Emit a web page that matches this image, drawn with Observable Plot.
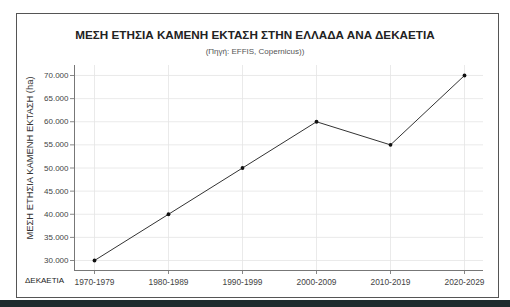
<!DOCTYPE html>
<html>
<head>
<meta charset="utf-8">
<script src="https://cdn.jsdelivr.net/npm/d3@7"></script>
<script src="https://cdn.jsdelivr.net/npm/@observablehq/plot@0.6"></script>
<style>
  html, body { margin: 0; padding: 0; background: #fff; }
  body { width: 510px; height: 307px; position: relative; overflow: hidden; font-family: "Liberation Sans", Arial, sans-serif; }
  #card { position: absolute; left: 16px; top: 13px; width: 483px; height: 285px; border: 1px solid #555; box-sizing: border-box; background: #fff; }
  #band { position: absolute; left: 0; top: 300px; width: 510px; height: 7px; background: #1e2b2d; }
  #chart { position: absolute; left: 0; top: 0; }
  .t { position: absolute; white-space: nowrap; color: #222; }
  #title { left: 0; width: 510px; text-align: center; top: 28px; font-size: 11.7px; font-weight: bold; }
  #sub { left: 0; width: 510px; text-align: center; top: 47px; font-size: 8px; color: #555; }
  #ylab { left: 29px; top: 158px; font-size: 9.4px; color: #333; transform: translate(-50%, -50%) rotate(-90deg); }
  #xlab { left: 25px; top: 276px; font-size: 8px; color: #222; }
</style>
</head>
<body>
<div id="card"></div>
<div id="band"></div>
<div id="chart"></div>
<div class="t" id="title">ΜΕΣΗ ΕΤΗΣΙΑ ΚΑΜΕΝΗ ΕΚΤΑΣΗ ΣΤΗΝ ΕΛΛΑΔΑ ΑΝΑ ΔΕΚΑΕΤΙΑ</div>
<div class="t" id="sub">(Πηγή: EFFIS, Copernicus))</div>
<div class="t" id="ylab">ΜΕΣΗ ΕΤΗΣΙΑ ΚΑΜΕΝΗ ΕΚΤΑΣΗ (ha)</div>
<div class="t" id="xlab">ΔΕΚΑΕΤΙΑ</div>
<script>
const decades = ["1970-1979", "1980-1989", "1990-1999", "2000-2009", "2010-2019", "2020-2029"];
const area = [30000, 40000, 50000, 60000, 55000, 70000];
const yTicks = [30000, 35000, 40000, 45000, 50000, 55000, 60000, 65000, 70000];

const data = decades.map((d, i) => ({decade: d, area: area[i]}));
const fmt = d => d3.format(",")(d).replace(/,/g, ".");
const yMin = 27838, yMax = 72162;

const plot = Plot.plot({
  width: 510,
  height: 307,
  marginLeft: 74,
  marginRight: 27,
  marginTop: 65,
  marginBottom: 37,
  style: {background: "transparent", fontFamily: "'Liberation Sans', Arial, sans-serif"},
  x: {type: "point", domain: decades, range: [92.5, 465.5], padding: 0},
  y: {domain: [yMin, yMax]},
  marks: [
    Plot.gridX(decades, {stroke: "#e4e4e4", strokeOpacity: 1, strokeWidth: 0.8}),
    Plot.gridY(yTicks, {stroke: "#e4e4e4", strokeOpacity: 1, strokeWidth: 0.8}),
    Plot.axisY(yTicks, {tickFormat: fmt, tickSize: 4, tickPadding: 2, fontSize: 8, fill: "#444", stroke: "#888", label: null}),
    Plot.axisX(decades, {tickSize: 4, tickPadding: 5, fontSize: 8.4, fill: "#444", stroke: "#888", label: null}),
    Plot.ruleY([yMin], {stroke: "#777", strokeWidth: 1}),
    Plot.frame({anchor: "left", stroke: "#777", strokeWidth: 1}),
    Plot.line(data, {x: "decade", y: "area", stroke: "#333", strokeWidth: 1}),
    Plot.dot(data, {x: "decade", y: "area", r: 1.9, fill: "#111", stroke: "none"})
  ]
});
document.getElementById("chart").appendChild(plot);
</script>
</body>
</html>
